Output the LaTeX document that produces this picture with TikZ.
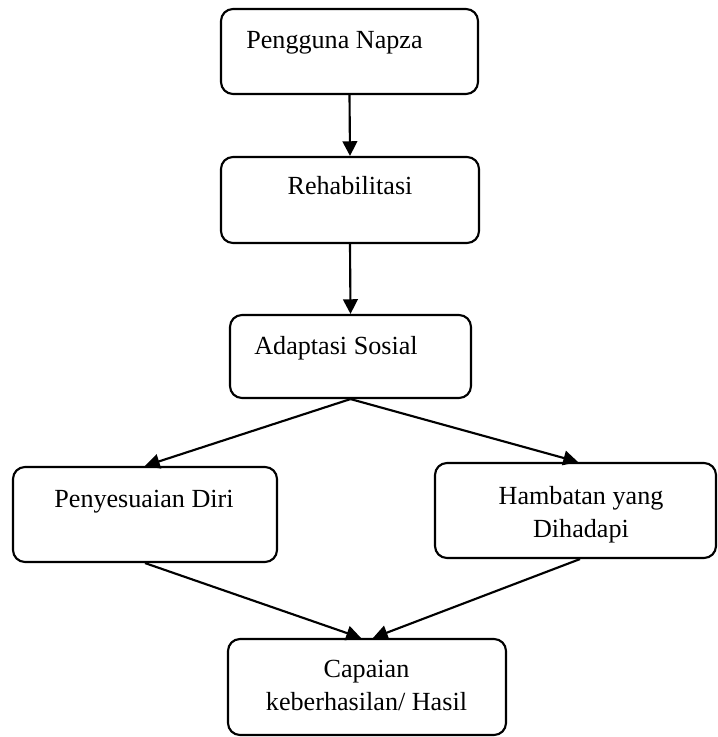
\documentclass[tikz,border=0pt]{standalone}
\usepackage{fontspec}
\setmainfont{Liberation Serif}
\usetikzlibrary{arrows.meta,calc}
\begin{document}
\begin{tikzpicture}[x=0.75pt,y=-0.75pt,
  box/.style={draw, line width=1.6pt, rounded corners=9pt, inner sep=0pt},
  txt/.style={font=\fontsize{19.6pt}{24.75pt}\selectfont, inner sep=0pt, align=center, anchor=base},
  arr/.style={line width=1.6pt, -{Triangle[length=11pt,width=11pt]}}]
\path[fill=white] (0,0) rectangle (717,737);
\useasboundingbox (0,0) rectangle (717,737);

\node[box, minimum width=192.75pt, minimum height=63.75pt] (b1) at (349.5,51.5) {};
\node[box, minimum width=193.5pt, minimum height=64.5pt] (b2) at (350,200) {};
\node[box, minimum width=180.75pt, minimum height=62.25pt] (b3) at (350.5,356.5) {};
\node[box, minimum width=198pt, minimum height=71.25pt] (b4) at (145,514.5) {};
\node[box, minimum width=210.75pt, minimum height=71.25pt] (b5) at (575.5,510.5) {};
\node[box, minimum width=208.5pt, minimum height=72pt] (b6) at (367,687) {};

\node[txt] (t1) at (334.5,49) {Pengguna Napza};
\node[txt] (t2) at (350,195) {Rehabilitasi};
\node[txt] (t3) at (336,354) {Adaptasi Sosial};
\node[txt] (t4) at (144,507.5) {Penyesuaian Diri};
\node[txt] (t5) at (581,537) {Hambatan yang\\Dihadapi};
\node[txt] (t6) at (366.5,710) {Capaian\\keberhasilan/ Hasil};

\draw[arr] (b1.south) -- (b2.north);
\draw[arr] (b2.south) -- (b3.north);
\draw[arr] (b3.south) -- (b4.north);
\draw[arr] (b3.south) -- ($(b5.north)+(2.5,0)$);
\draw[arr] (b4.south) -- ($(b6.north)+(-6,0)$);
\draw[arr] ($(b5.south)+(4.5,0)$) -- ($(b6.north)+(6,0)$);
\end{tikzpicture}
\end{document}
